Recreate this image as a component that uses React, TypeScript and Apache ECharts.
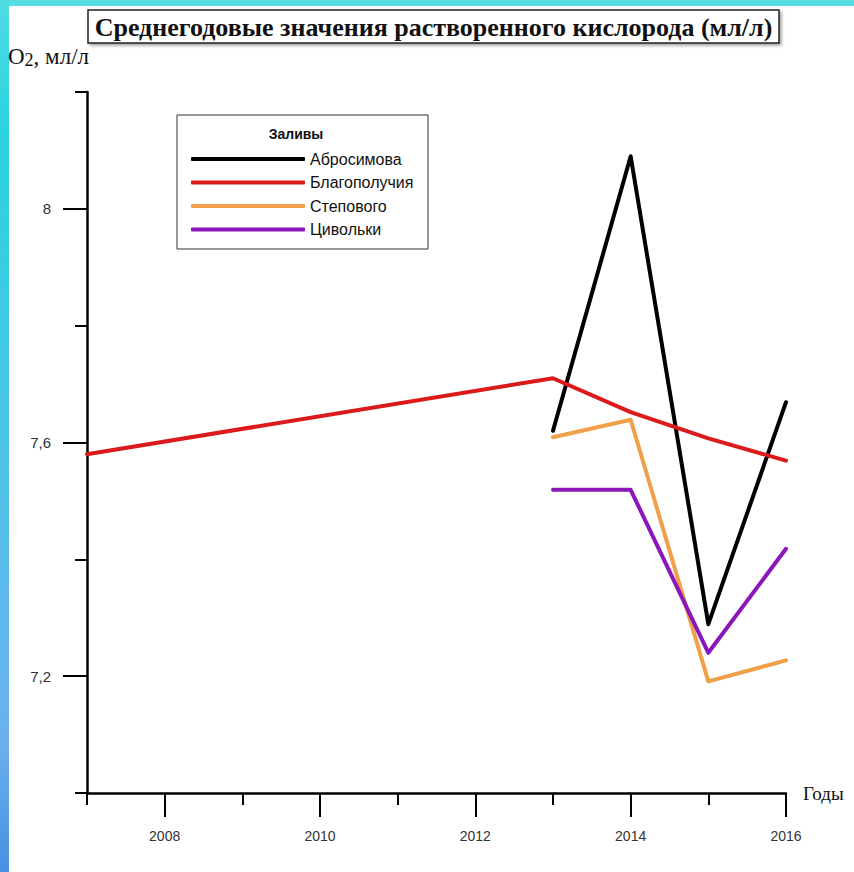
import React, { useEffect, useRef } from "react";
import * as echarts from "echarts";

const seriesNames = ["Абросимова", "Благополучия", "Степового", "Цивольки"];
const seriesColors = ["#000000", "#dc1a1a", "#f0a048", "#8c16bc"];
const abrosimovaData: [number, number][] = [[2013, 7.62], [2014, 8.09], [2015, 7.289], [2016, 7.669]];
const blagopoluchiyaData: [number, number][] = [[2007, 7.58], [2013, 7.71], [2014, 7.652], [2015, 7.607], [2016, 7.569]];
const stepovogoData: [number, number][] = [[2013, 7.609], [2014, 7.639], [2015, 7.191], [2016, 7.227]];
const tsivolkiData: [number, number][] = [[2013, 7.519], [2014, 7.519], [2015, 7.24], [2016, 7.418]];
const xMajorTicks = [2008, 2010, 2012, 2014, 2016];
const yMajorTicks = [7.2, 7.6, 8.0];
const titleText = "Среднегодовые значения растворенного кислорода (мл/л)";
const legendTitle = "Заливы";

export default function App() {
  const ref = useRef<HTMLDivElement>(null);
  useEffect(() => {
    if (!ref.current) return;
    const chart = echarts.init(ref.current, null, { renderer: "svg" });
    const allData = [abrosimovaData, blagopoluchiyaData, stepovogoData, tsivolkiData];
    const axisColor = "#000";
    const labelColor = "#333";
    const option: any = {
      animation: false,
      backgroundColor: "#ffffff",
      grid: { left: 87, right: 68, top: 92, bottom: 79, containLabel: false },
      xAxis: [
        {
          type: "value", min: 2007, max: 2016, interval: 1, position: "bottom",
          axisLine: { show: true, lineStyle: { color: axisColor, width: 2.5 } },
          axisTick: { show: true, length: 12, lineStyle: { color: axisColor, width: 2 } },
          axisLabel: { show: false },
          splitLine: { show: false },
        },
        {
          type: "value", min: 2007, max: 2016, position: "bottom",
          axisLine: { show: false },
          axisTick: { show: true, length: 24, customValues: xMajorTicks, lineStyle: { color: axisColor, width: 2 } },
          axisLabel: {
            show: true, customValues: xMajorTicks, margin: 36, color: labelColor, fontSize: 14, fontFamily: "Liberation Sans",
            formatter: (v: number) => String(Math.round(v)),
          },
          splitLine: { show: false },
        },
      ],
      yAxis: [
        {
          type: "value", min: 7.0, max: 8.2, interval: 0.2, position: "left",
          axisLine: { show: true, lineStyle: { color: axisColor, width: 2.5 } },
          axisTick: { show: true, length: 12, lineStyle: { color: axisColor, width: 2 } },
          axisLabel: { show: false },
          splitLine: { show: false },
        },
        {
          type: "value", min: 7.0, max: 8.2, position: "left",
          axisLine: { show: false },
          axisTick: { show: true, length: 24, customValues: yMajorTicks, lineStyle: { color: axisColor, width: 2 } },
          axisLabel: {
            show: true, customValues: yMajorTicks, margin: 36, color: labelColor, fontSize: 15, fontFamily: "Liberation Sans",
            formatter: (v: number) => String(Math.round(v * 10) / 10).replace(".", ","),
          },
          splitLine: { show: false },
        },
      ],
      legend: {
        orient: "vertical", left: 186, top: 146, z: 10,
        itemWidth: 114, itemHeight: 4, itemGap: 7.5, icon: "roundRect",
        textStyle: { fontSize: 16, lineHeight: 16, color: "#111", fontFamily: "Liberation Sans", padding: [0, 0, 0, 0] },
        data: seriesNames,
      },
      series: seriesNames.map((name, i) => ({
        name, type: "line", xAxisIndex: 0, yAxisIndex: 0, data: allData[i],
        showSymbol: false, symbol: "none", color: seriesColors[i],
        lineStyle: { color: seriesColors[i], width: 4, cap: "round", join: "round" },
        z: name === "Благополучия" ? 3 : 2,
      })),
      graphic: [
        { type: "rect", z: -10, silent: true, shape: { x: 0, y: 0, width: 854, height: 6 }, style: { fill: "#58dce4" } },
        {
          type: "rect", z: -10, silent: true, shape: { x: 0, y: 0, width: 9, height: 872 },
          style: {
            fill: new echarts.graphic.LinearGradient(0, 0, 0, 1, [
              { offset: 0, color: "#50dbe3" },
              { offset: 0.15, color: "#2ad3e0" },
              { offset: 0.55, color: "#50c2e8" },
              { offset: 0.85, color: "#6cb0ee" },
              { offset: 1, color: "#4a8ee0" },
            ]),
          },
        },
        {
          type: "rect", z: 1, shape: { x: 88, y: 10, width: 691, height: 33 },
          style: { fill: "#fff", stroke: "#222", lineWidth: 1.5, shadowBlur: 3, shadowColor: "rgba(0,0,0,0.35)", shadowOffsetX: 2, shadowOffsetY: 2 },
        },
        {
          type: "text", z: 2, x: 433.5, y: 27,
          style: { text: titleText, textAlign: "center", textVerticalAlign: "middle", font: "bold 26px 'Liberation Serif'", fill: "#111" },
        },
        {
          type: "text", z: 2, x: 8, y: 56,
          style: {
            text: "{a|O}{b|2}{a|, мл/л}", textVerticalAlign: "middle", fill: "#111",
            rich: {
              a: { fontFamily: "Liberation Serif", fontSize: 23, lineHeight: 24, verticalAlign: "middle" },
              b: { fontFamily: "Liberation Serif", fontSize: 18, lineHeight: 24, padding: [8, 0, 0, 0], verticalAlign: "middle" },
            },
          },
        },
        {
          type: "text", z: 2, x: 803, y: 793,
          style: { text: "Годы", textVerticalAlign: "middle", font: "19px 'Liberation Serif'", fill: "#111" },
        },
        {
          type: "rect", z: 1, shape: { x: 177, y: 115, width: 251, height: 134 },
          style: { fill: "#fff", stroke: "#333", lineWidth: 1 },
        },
        {
          type: "text", z: 2, x: 296, y: 134,
          style: { text: legendTitle, textAlign: "center", textVerticalAlign: "middle", font: "bold 14px 'Liberation Sans'", fill: "#111" },
        },
      ],
    };
    chart.setOption(option);
    return () => chart.dispose();
  }, []);
  return <div ref={ref} style={{ position: "absolute", left: 0, top: 0, width: 854, height: 872 }} />;
}
